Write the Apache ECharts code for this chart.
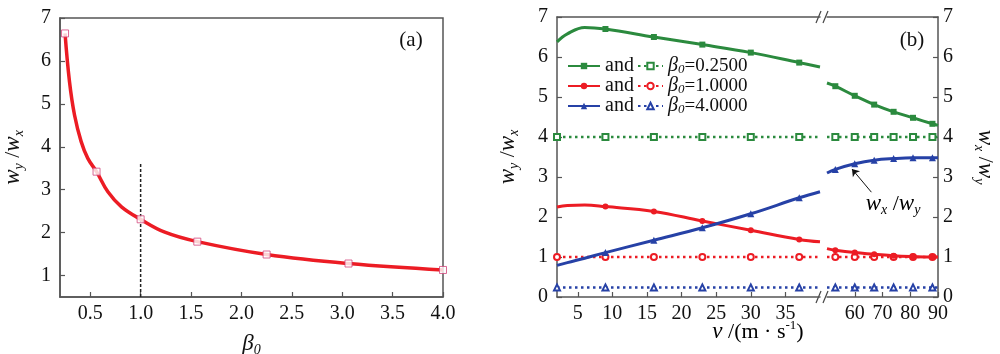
<!DOCTYPE html>
<html>
<head>
<meta charset="utf-8">
<script src="https://cdn.jsdelivr.net/npm/echarts@6/dist/echarts.min.js"></script>
<style>
html, body { margin: 0; padding: 0; background: #fff; }
#main { width: 1000px; height: 354px; }
</style>
</head>
<body>
<div id="main"></div>
<script>
// ---- panel (a): w_y/w_x against beta0 ----
var betaMarks = [0.25, 0.5625, 1.0, 1.5625, 2.25, 3.0625, 4.0];
var ratioMarks = [6.64, 3.42, 2.31, 1.79, 1.49, 1.28, 1.13];
var betaCurve = [0.25, 0.294, 0.344, 0.41, 0.476, 0.5625, 0.675, 0.81, 1.0, 1.24, 1.5625, 2.25, 3.0625, 4.0];
var ratioCurve = [6.64, 5.52, 4.74, 4.12, 3.73, 3.42, 2.95, 2.60, 2.31, 2.01, 1.79, 1.49, 1.28, 1.13];
var dashBeta = [1.0, 1.0];
var dashRatio = [0.5, 3.63];
var betaTicks = [0.5, 1.0, 1.5, 2.0, 2.5, 3.0, 3.5, 4.0];
var ratioTicks = [1, 2, 3, 4, 5, 6, 7];

// ---- panel (b): ratios against wind speed v (broken axis) ----
var vSolidL = [2, 3.5, 6, 9, 16, 23, 30, 37, 40];
var greenL = [6.38, 6.58, 6.74, 6.70, 6.50, 6.31, 6.11, 5.86, 5.75];
var redL = [2.25, 2.29, 2.30, 2.26, 2.14, 1.90, 1.67, 1.44, 1.38];
var blueL = [0.79, 0.86, 0.97, 1.11, 1.42, 1.73, 2.08, 2.48, 2.63];
var vSolidR = [50, 53, 60, 67, 74, 81, 88, 90];
var greenR = [5.35, 5.27, 5.03, 4.81, 4.63, 4.48, 4.33, 4.29];
var redR = [1.21, 1.17, 1.11, 1.07, 1.03, 1.01, 1.00, 1.00];
var blueR = [3.10, 3.19, 3.33, 3.42, 3.46, 3.48, 3.48, 3.48];
var vDotL = [2, 9, 16, 23, 30, 37, 40];
var vDotR = [50, 53, 60, 67, 74, 81, 88, 90];
var dotGreenL = [4, 4, 4, 4, 4, 4, 4];
var dotGreenR = [4, 4, 4, 4, 4, 4, 4, 4];
var dotRedL = [1, 1, 1, 1, 1, 1, 1];
var dotRedR = [1, 1, 1, 1, 1, 1, 1, 1];
var dotBlueL = [0.24, 0.24, 0.24, 0.24, 0.24, 0.24, 0.24];
var dotBlueR = [0.24, 0.24, 0.24, 0.24, 0.24, 0.24, 0.24, 0.24];
var solidMarked = [9, 16, 23, 30, 37, 53, 60, 67, 74, 81, 88];
var dotMarked = [2, 9, 16, 23, 30, 37, 53, 60, 67, 74, 81, 88];
var vTicksL = [5, 10, 15, 20, 25, 30, 35];
var vTicksR = [60, 70, 80, 90];
var betaLabels = { dg: '0.2500', dr: '1.0000', db: '4.0000' };

var serif = '"Liberation Serif", "DejaVu Serif", serif';
var ink = '#111';
var frame = '#555';
var GREEN = '#2b8a3e', RED = '#ec1c24', BLUE = '#2641a6';

var myChart = echarts.init(document.getElementById('main'));

function zip(xs, ys) {
	return xs.map(function(x, i) { return [x, ys[i]]; });
}
// hide the symbol on points that carry no marker in the figure
function marked(xs, ys, keep) {
	return xs.map(function(x, i) {
		var item = { value: [x, ys[i]] };
		if (keep.indexOf(x) < 0) item.symbol = 'none';
		return item;
	});
}

var nameRich = {
	i: { fontFamily: serif, fontStyle: 'italic', fontSize: 23, lineHeight: 26, color: ink },
	s: { fontFamily: serif, fontStyle: 'italic', fontSize: 14, lineHeight: 14, verticalAlign: 'bottom', color: ink },
	n: { fontFamily: serif, fontSize: 22, lineHeight: 26, color: ink },
	p: { fontFamily: serif, fontSize: 13, lineHeight: 13, verticalAlign: 'top', color: ink }
};
var tickFont = { fontFamily: serif, fontSize: 20, color: ink };

function valueAxis(grid, opts) {
	var ax = {
		type: 'value',
		gridIndex: grid,
		splitLine: { show: false },
		axisLine: { show: true, lineStyle: { color: frame, width: 1.5 } },
		axisTick: { show: true, inside: true, length: 5, lineStyle: { color: frame, width: 1.2 } },
		axisLabel: tickFont
	};
	for (var k in opts) ax[k] = opts[k];
	return ax;
}
function lineAxis(grid, pos, min, max) {
	return {
		type: 'value', gridIndex: grid, position: pos, min: min, max: max,
		axisLine: { show: true, onZero: false, lineStyle: { color: frame, width: 1.5 } },
		axisTick: { show: false }, axisLabel: { show: false }, splitLine: { show: false }
	};
}
function ticks(values) {
	return { show: true, inside: true, length: 5, customValues: values, lineStyle: { color: frame, width: 1.2 } };
}
function labels(values, margin, fmt) {
	var l = { fontFamily: serif, fontSize: 20, color: ink, margin: margin, customValues: values };
	if (fmt) l.formatter = fmt;
	return l;
}

function solid(name, color, symbol, size, xi, data) {
	return {
		name: name, type: 'line', xAxisIndex: xi, yAxisIndex: xi,
		smooth: 0.4, symbol: symbol, symbolSize: size, color: color,
		lineStyle: { color: color, width: 3 },
		itemStyle: { color: color },
		data: data, z: 3
	};
}
function dotted(name, color, symbol, xi, data) {
	return {
		name: name, type: 'line', xAxisIndex: xi, yAxisIndex: xi,
		symbol: symbol, symbolSize: 6, color: color,
		lineStyle: { color: color, width: 2.5, type: [2.5, 3.5] },
		itemStyle: { color: color, borderWidth: 1 },
		data: data, z: 2
	};
}

var option = {
	animation: false,
	backgroundColor: '#fff',
	grid: [
		{ left: 60, top: 18, width: 383, height: 279, show: true, borderColor: frame, borderWidth: 1.5, outerBoundsMode: 'none' },
		{ left: 557, top: 17, width: 263, height: 280, outerBoundsMode: 'none' },
		{ left: 827, top: 17, width: 111, height: 280, outerBoundsMode: 'none' }
	],
	xAxis: [
		valueAxis(0, {
			min: 0.2, max: 4.0,
			axisTick: ticks(betaTicks),
			axisLabel: labels(betaTicks, 7, function(v) { return v.toFixed(1); }),
			name: '{i|β}{s|0}', nameLocation: 'middle', nameGap: 34,
			nameTextStyle: { rich: nameRich }
		}),
		valueAxis(1, { min: 2, max: 40, axisTick: ticks(vTicksL), axisLabel: labels(vTicksL, 7) }),
		valueAxis(2, { min: 50, max: 90, axisTick: ticks(vTicksR), axisLabel: labels(vTicksR, 7) }),
		lineAxis(1, 'top', 2, 40),
		lineAxis(2, 'top', 50, 90)
	],
	yAxis: [
		valueAxis(0, {
			min: 0.5, max: 7,
			axisTick: ticks(ratioTicks),
			axisLabel: labels(ratioTicks, 9),
			name: '{i|w}{s|y}{n| /}{i|w}{s|x}', nameLocation: 'middle', nameGap: 34, nameRotate: 90,
			nameTextStyle: { rich: nameRich }
		}),
		valueAxis(1, {
			min: 0, max: 7, interval: 1,
			axisLabel: { fontFamily: serif, fontSize: 20, color: ink, margin: 9 },
			name: '{i|w}{s|y}{n| /}{i|w}{s|x}', nameLocation: 'middle', nameGap: 36, nameRotate: 90,
			nameTextStyle: { rich: nameRich }
		}),
		valueAxis(2, {
			min: 0, max: 7, interval: 1, position: 'right',
			axisLabel: { fontFamily: serif, fontSize: 20, color: ink, margin: 5 },
			name: '{i|w}{s|x}{n| /}{i|w}{s|y}', nameLocation: 'middle', nameGap: 34, nameRotate: -90,
			nameTextStyle: { rich: nameRich }
		})
	],
	legend: [
		{
			data: ['sg', 'sr', 'sb'], orient: 'vertical', left: 562, top: 51,
			itemWidth: 32, itemHeight: 8, itemGap: 0, selectedMode: false,
			formatter: function() { return 'and'; },
			textStyle: { fontFamily: serif, fontSize: 20, lineHeight: 20, color: ink }
		},
		{
			data: ['dg', 'dr', 'db'], orient: 'vertical', left: 632, top: 51,
			itemWidth: 25, itemHeight: 8, itemGap: 0, selectedMode: false,
			formatter: function(name) { return '{b|β}{s|0}{t|=' + betaLabels[name] + '}'; },
			textStyle: {
				color: ink, lineHeight: 20,
				rich: {
					b: { fontFamily: serif, fontStyle: 'italic', fontSize: 20, lineHeight: 20, color: ink },
					s: { fontFamily: serif, fontStyle: 'italic', fontSize: 13, lineHeight: 12, verticalAlign: 'bottom', color: ink },
					t: { fontFamily: serif, fontSize: 19, lineHeight: 20, color: ink }
				}
			}
		}
	],
	series: [
		{
			type: 'line', xAxisIndex: 0, yAxisIndex: 0, data: zip(betaCurve, ratioCurve),
			smooth: 0.4, symbol: 'none', lineStyle: { color: RED, width: 3.5 }, z: 2
		},
		{
			type: 'scatter', xAxisIndex: 0, yAxisIndex: 0, data: zip(betaMarks, ratioMarks),
			symbol: 'rect', symbolSize: 7, itemStyle: { color: '#fff', borderColor: '#d2457a', borderWidth: 1 }, z: 3
		},
		{
			type: 'line', xAxisIndex: 0, yAxisIndex: 0, data: zip(dashBeta, dashRatio),
			symbol: 'none', lineStyle: { color: '#222', width: 1.5, type: [3, 2] }, z: 1
		},
		solid('sg', GREEN, 'rect', 6, 1, marked(vSolidL, greenL, solidMarked)),
		solid('sg', GREEN, 'rect', 6, 2, marked(vSolidR, greenR, solidMarked)),
		solid('sr', RED, 'circle', 6, 1, marked(vSolidL, redL, solidMarked)),
		solid('sr', RED, 'circle', 6, 2, marked(vSolidR, redR, solidMarked)),
		solid('sb', BLUE, 'triangle', 7, 1, marked(vSolidL, blueL, solidMarked)),
		(function() {
			var s = solid('sb', BLUE, 'triangle', 7, 2, marked(vSolidR, blueR, solidMarked));
			s.markLine = {
				silent: true, symbol: ['none', 'arrow'], symbolSize: 7,
				label: { show: false },
				lineStyle: { color: '#111', width: 1, type: 'solid' },
				data: [[{ coord: [66, 2.62] }, { coord: [59, 3.2] }]]
			};
			return s;
		})(),
		dotted('dg', GREEN, 'emptyRect', 1, marked(vDotL, dotGreenL, dotMarked)),
		dotted('dg', GREEN, 'emptyRect', 2, marked(vDotR, dotGreenR, dotMarked)),
		dotted('dr', RED, 'emptyCircle', 1, marked(vDotL, dotRedL, dotMarked)),
		dotted('dr', RED, 'emptyCircle', 2, marked(vDotR, dotRedR, dotMarked)),
		dotted('db', BLUE, 'emptyTriangle', 1, marked(vDotL, dotBlueL, dotMarked)),
		dotted('db', BLUE, 'emptyTriangle', 2, marked(vDotR, dotBlueR, dotMarked))
	],
	graphic: [
		{ type: 'text', x: 411, y: 40, style: { text: '(a)', fontFamily: serif, fontSize: 21, fill: ink, align: 'center', verticalAlign: 'middle' } },
		{ type: 'text', x: 912, y: 40, style: { text: '(b)', fontFamily: serif, fontSize: 21, fill: ink, align: 'center', verticalAlign: 'middle' } },
		{ type: 'text', x: 893, y: 204, style: { text: '{i|w}{s|x}{n| /}{i|w}{s|y}', rich: nameRich, align: 'center', verticalAlign: 'middle' } },
		{ type: 'text', x: 758, y: 332, style: { text: '{i|v}{n| /(m · s}{p|-1}{n|)}', rich: nameRich, align: 'center', verticalAlign: 'middle' } },
		// axis break marks
		{ type: 'line', shape: { x1: 816, y1: 23, x2: 821, y2: 11 }, style: { stroke: '#444', lineWidth: 1.2 } },
		{ type: 'line', shape: { x1: 823, y1: 23, x2: 828, y2: 11 }, style: { stroke: '#444', lineWidth: 1.2 } },
		{ type: 'line', shape: { x1: 816, y1: 303, x2: 821, y2: 291 }, style: { stroke: '#444', lineWidth: 1.2 } },
		{ type: 'line', shape: { x1: 823, y1: 303, x2: 828, y2: 291 }, style: { stroke: '#444', lineWidth: 1.2 } }
	]
};

myChart.setOption(option);

window.addEventListener('resize', function() {
	myChart.resize();
});
</script>
</body>
</html>
